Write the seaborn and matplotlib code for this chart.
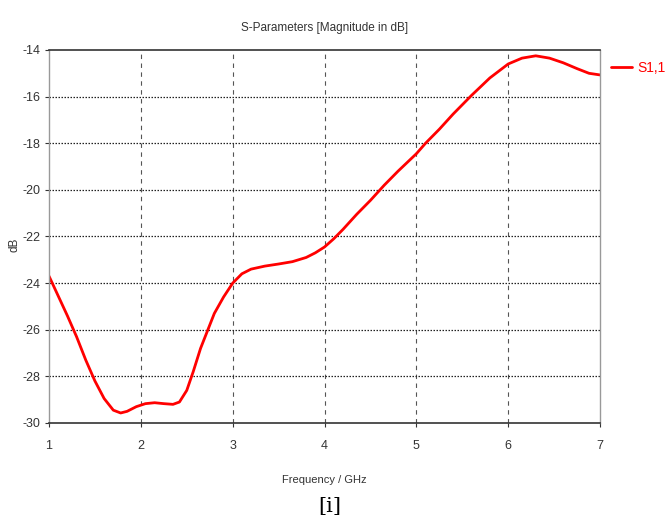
import numpy as np
import pandas as pd
import matplotlib
matplotlib.use('Agg')
import matplotlib.pyplot as plt
import seaborn as sns

# S11
freq_ghz = [1.0, 1.1, 1.2, 1.3, 1.4, 1.5, 1.6, 1.7, 1.78, 1.85, 1.95, 2.05, 2.15,
            2.25, 2.35, 2.42, 2.5, 2.57, 2.65, 2.73, 2.8, 2.9, 3.0, 3.1, 3.2,
            3.35, 3.5, 3.65, 3.8, 3.9, 4.0, 4.1, 4.2, 4.35, 4.5, 4.65, 4.8,
            5.0, 5.1, 5.25, 5.4, 5.6, 5.8, 6.0, 6.15, 6.3, 6.45, 6.6, 6.75,
            6.88, 7.0]
s11_db = [-23.7, -24.55, -25.4, -26.3, -27.3, -28.2, -28.95, -29.45, -29.57,
          -29.5, -29.3, -29.17, -29.13, -29.17, -29.2, -29.1, -28.6, -27.8,
          -26.8, -26.0, -25.3, -24.6, -24.0, -23.6, -23.4, -23.27, -23.18,
          -23.08, -22.9, -22.7, -22.45, -22.1, -21.7, -21.05, -20.45, -19.8,
          -19.2, -18.45, -18.0, -17.4, -16.75, -15.95, -15.2, -14.6, -14.35,
          -14.25, -14.35, -14.55, -14.8, -15.0, -15.07]
x_ticks = [1, 2, 3, 4, 5, 6, 7]
y_ticks = [-30, -28, -26, -24, -22, -20, -18, -16, -14]

df = pd.DataFrame({'Frequency': freq_ghz, 'S1,1': s11_db})

sns.set_style('white')
plt.rcParams['font.family'] = ['Liberation Sans', 'DejaVu Sans']
plt.rcParams['axes.unicode_minus'] = False

fig = plt.figure(figsize=(6.67, 5.18), dpi=100)
ax = fig.add_axes([0.0735, 0.1834, 0.8261, 0.7201])

sns.lineplot(data=df, x='Frequency', y='S1,1', ax=ax, color='#ff0000',
             linewidth=2, label='S1,1')

ax.set_xlim(1, 7)
ax.set_ylim(-30, -14)
ax.set_xticks(x_ticks)
ax.set_yticks(y_ticks)

# grid: dashed verticals, dotted horizontals
for xv in x_ticks[1:-1]:
    ax.axvline(xv, color='#555555', linestyle=(0, (4, 4)), linewidth=0.8, zorder=0)
for yv in y_ticks[1:-1]:
    ax.axhline(yv, color='#222222', linestyle=(0, (1.2, 1.2)), linewidth=0.9, zorder=0)

for side in ['top', 'bottom']:
    ax.spines[side].set_color('#333333')
    ax.spines[side].set_linewidth(1.2)
for side in ['left', 'right']:
    ax.spines[side].set_color('#999999')
    ax.spines[side].set_linewidth(1.0)

ax.tick_params(axis='both', labelsize=9, colors='#333333', length=3,
               direction='out', left=True, bottom=True)
ax.tick_params(axis='x', pad=9)
ax.tick_params(axis='y', pad=3)

ax.set_title('S-Parameters [Magnitude in dB]', fontsize=8.5, color='#333333', pad=14)
ax.set_xlabel('Frequency / GHz', fontsize=8, color='#333333', labelpad=17)
ax.set_ylabel('')
fig.text(0.021, 0.527, 'dB', rotation=90, fontsize=8.5, color='#333333',
         ha='center', va='center')

leg = ax.legend(loc='center left', bbox_to_anchor=(1.02, 0.952), frameon=False,
                handlelength=1.5, handletextpad=0.4, fontsize=10,
                borderaxespad=0, borderpad=0)
for t in leg.get_texts():
    t.set_color('#ff0000')

fig.text(0.495, 0.003, '[i]', fontsize=15, family='DejaVu Serif', ha='center',
         va='bottom', color='black')

fig.savefig('out.png', dpi=100)
